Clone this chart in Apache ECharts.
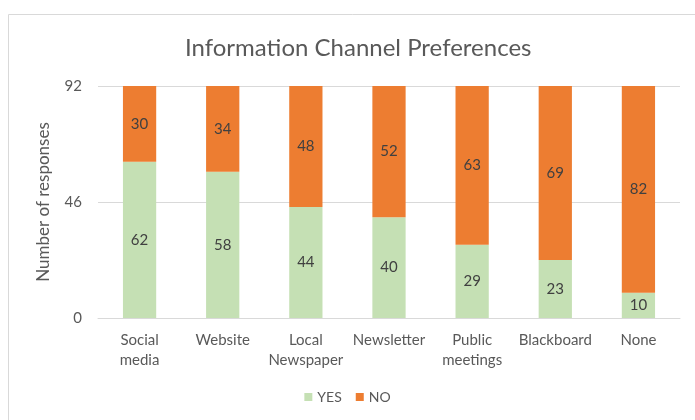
<!DOCTYPE html>
<html>
<head>
<meta charset="utf-8">
<script src="https://cdn.jsdelivr.net/npm/echarts@6/dist/echarts.min.js"></script>
<style>
html,body{margin:0;padding:0;background:#fff;}
#chart{width:695px;height:420px;}
</style>
</head>
<body>
<div id="chart"></div>
<script>
// data
var categories = ['Social\nmedia', 'Website', 'Local\nNewspaper', 'Newsletter', 'Public\nmeetings', 'Blackboard', 'None'];
var yesValues = [62, 58, 44, 40, 29, 23, 10];
var noValues = [30, 34, 48, 52, 63, 69, 82];
var yTicks = [0, 46, 92];

var font = 'Lato, "Open Sans", sans-serif';

var chart = echarts.init(document.getElementById('chart'));
var option = {
    animation: false,
    textStyle: { fontFamily: font },
    graphic: [
        {
            type: 'rect',
            shape: { x: 8.5, y: 14.5, width: 720, height: 440 },
            style: { fill: 'none', stroke: '#d9d9d9', lineWidth: 1 }
        }
    ],
    title: {
        text: 'Information Channel Preferences',
        left: 180,
        top: 31,
        textStyle: { color: '#595959', fontSize: 24, fontWeight: 'normal', fontFamily: font }
    },
    legend: {
        bottom: 11,
        left: 'center',
        itemWidth: 8,
        itemHeight: 8,
        itemGap: 14,
        icon: 'rect',
        textStyle: { color: '#595959', fontSize: 14, fontFamily: font },
        data: ['YES', 'NO']
    },
    grid: {
        left: 98,
        right: 15,
        top: 86,
        bottom: 102
    },
    xAxis: {
        type: 'category',
        data: categories,
        axisTick: { show: false },
        axisLine: { lineStyle: { color: '#d9d9d9' } },
        axisLabel: {
            color: '#595959',
            fontSize: 15,
            lineHeight: 20,
            margin: 12,
            interval: 0,
            fontFamily: font
        }
    },
    yAxis: {
        type: 'value',
        min: 0,
        max: 92,
        interval: 46,
        name: 'Number of responses',
        nameLocation: 'middle',
        nameGap: 46,
        nameTextStyle: { color: '#595959', fontSize: 17, fontFamily: font },
        axisLine: { show: false },
        axisTick: { show: false },
        axisLabel: {
            color: '#595959',
            fontSize: 15,
            margin: 16,
            fontFamily: font,
            formatter: function (v) { return yTicks.indexOf(v) >= 0 ? v : ''; }
        },
        splitLine: { lineStyle: { color: '#d9d9d9' } }
    },
    series: [
        {
            name: 'YES',
            type: 'bar',
            stack: 'total',
            barWidth: '40%',
            itemStyle: { color: '#c5e0b4' },
            label: { show: true, position: 'inside', color: '#404040', fontSize: 15, fontFamily: font },
            data: yesValues
        },
        {
            name: 'NO',
            type: 'bar',
            stack: 'total',
            barWidth: '40%',
            itemStyle: { color: '#ed7d31' },
            label: { show: true, position: 'inside', color: '#404040', fontSize: 15, fontFamily: font },
            data: noValues
        }
    ]
};
chart.setOption(option);
</script>
</body>
</html>
